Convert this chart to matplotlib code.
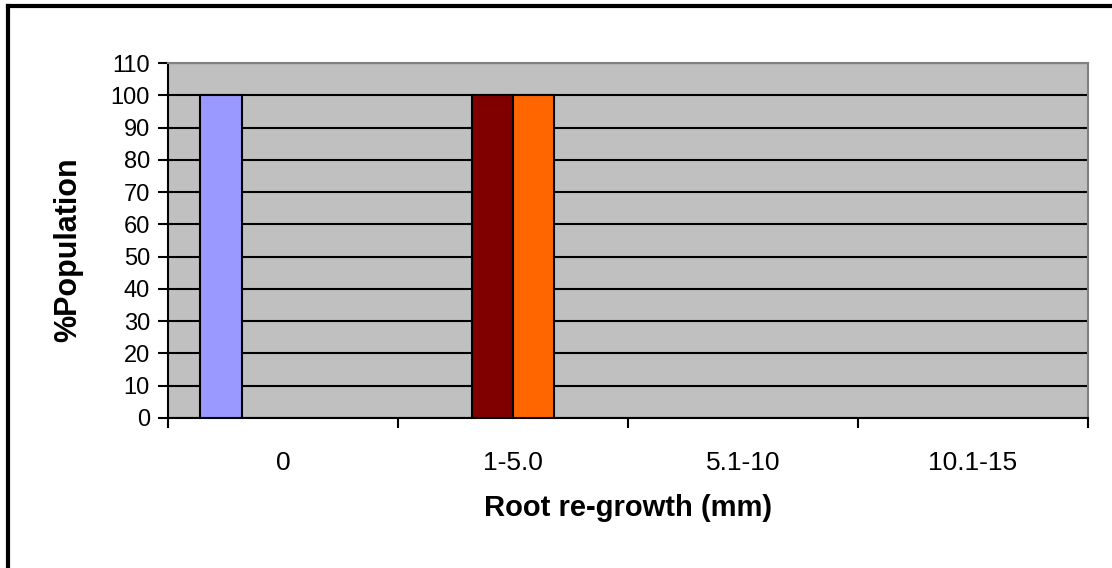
import matplotlib
matplotlib.use("Agg")
import matplotlib.pyplot as plt
from matplotlib.lines import Line2D
import numpy as np

plt.rcParams["font.family"] = ["Liberation Sans", "DejaVu Sans"]

CATEGORIES = ["0", "1-5.0", "5.1-10", "10.1-15"]
SERIES_1 = [100, 0, 0, 0]
SERIES_2 = [0, 100, 0, 0]
SERIES_3 = [0, 100, 0, 0]
SERIES_4 = [0, 0, 0, 0]
SERIES = [SERIES_1, SERIES_2, SERIES_3, SERIES_4]
COLORS = ["#9999FF", "#800000", "#FF6600", "#FFFFCC"]
Y_TICKS = list(range(0, 111, 10))

W, H = 1112, 568
fig = plt.figure(figsize=(W / 100, H / 100), dpi=100)
ax = fig.add_axes([168 / W, 1 - 418 / H, (1088 - 168) / W, (418 - 63) / H])
ax.set_facecolor("#C0C0C0")

x = np.arange(len(CATEGORIES))
width = 0.18
for i, (vals, col) in enumerate(zip(SERIES, COLORS)):
    offs = (i - 1.5) * width
    heights = np.array(vals, dtype=float)
    mask = heights > 0
    ax.bar(x[mask] + offs, heights[mask], width=width, color=col,
           edgecolor="black", linewidth=1.5, zorder=3)

ax.set_xlim(-0.5, len(CATEGORIES) - 0.5)
ax.set_ylim(0, 110)
ax.set_yticks(Y_TICKS)
ax.yaxis.grid(True, color="black", linewidth=1.5, zorder=1)
ax.set_axisbelow(True)

ax.set_xticks(np.arange(len(CATEGORIES) + 1) - 0.5)
ax.set_xticklabels([])
ax.set_xticks(x, minor=True)
ax.set_xticklabels(CATEGORIES, minor=True)
ax.tick_params(axis="x", which="minor", length=0, pad=24, labelsize=19)
ax.tick_params(axis="x", which="major", length=7, width=1.5, direction="out")
ax.tick_params(axis="y", length=7, width=1.5, direction="out", pad=6, labelsize=17)

for s in ["left", "bottom"]:
    ax.spines[s].set_color("black")
    ax.spines[s].set_linewidth(1.5)
for s in ["top", "right"]:
    ax.spines[s].set_color("#808080")
    ax.spines[s].set_linewidth(1.5)

fig.text(628 / W, 1 - 516 / H, "Root re-growth (mm)", fontsize=21,
         fontweight="bold", ha="center", va="baseline")
fig.text(68 / W, 1 - 250 / H, "%Population", fontsize=22, fontweight="bold",
         ha="center", va="center", rotation=90)

# outer chart border (left and top edges visible)
fig.add_artist(Line2D([8 / W, 8 / W], [0, 1 - 6 / H], color="black",
                      linewidth=3, transform=fig.transFigure))
fig.add_artist(Line2D([8 / W, 1], [1 - 6 / H, 1 - 6 / H], color="black",
                      linewidth=3, transform=fig.transFigure))

fig.savefig("out.png", dpi=100)
